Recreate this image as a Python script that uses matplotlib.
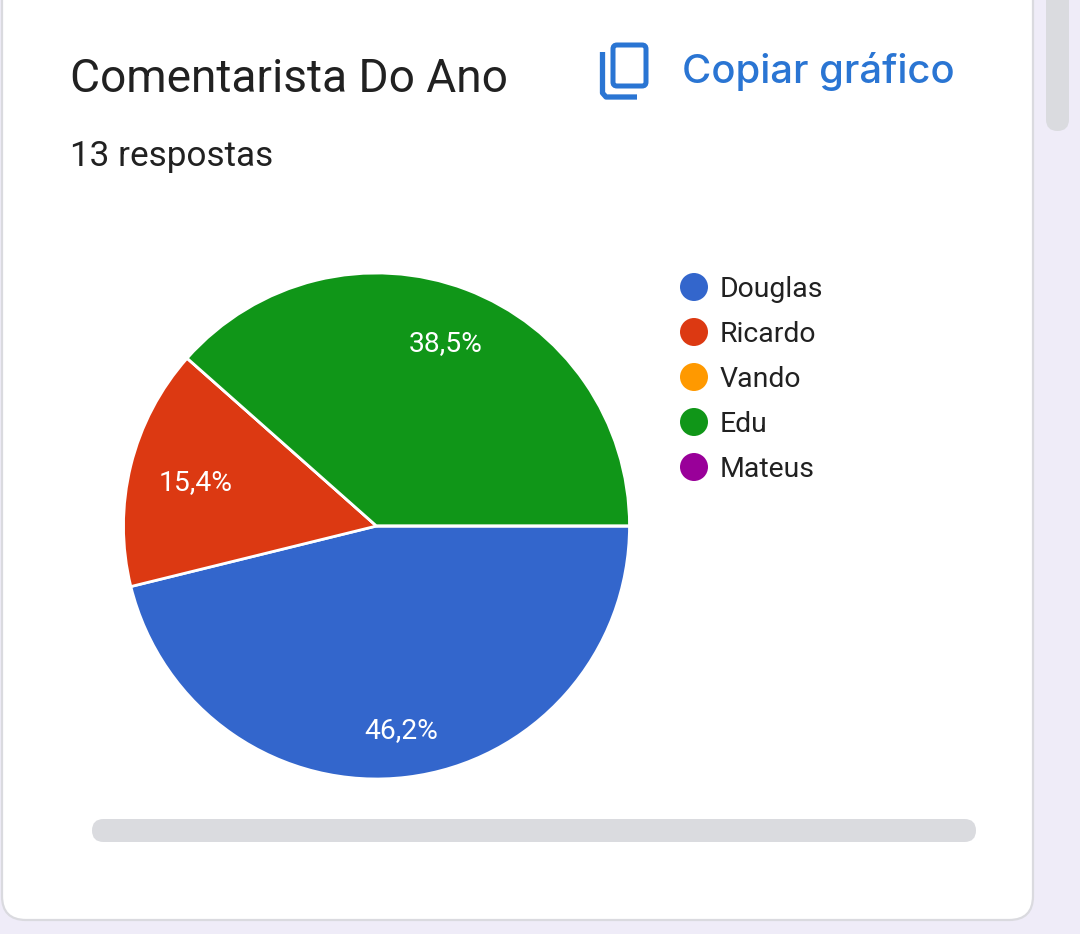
import matplotlib.pyplot as plt
import numpy as np
from matplotlib.patches import Circle, FancyBboxPatch

W, H = 1080, 934

NAMES = ["Douglas", "Ricardo", "Vando", "Edu", "Mateus"]
VOTES = [6, 2, 0, 5, 0]
COLORS = ["#3366CC", "#DC3912", "#FF9900", "#109618", "#990099"]
PCT_LABELS = ["46,2%", "15,4%", "", "38,5%", ""]
# how far along the radius google puts each label
LABEL_DIST = [0.81, 0.735, 0, 0.775, 0]

TITLE = "Comentarista Do Ano"
SUBTITLE = "13 respostas"
COPY = "Copiar gráfico"

BLUE = "#2A75D3"
TEXT = "#212121"
BAR = "#DADBDF"

plt.rcParams["font.family"] = ["Roboto", "DejaVu Sans"]


def flip(y):
    # positions below are measured from the top of the screenshot
    return H - y


def pill(ax, x0, y0, x1, y1, rad, **kw):
    ax.add_patch(
        FancyBboxPatch(
            (x0 + rad, flip(y1) + rad),
            x1 - x0 - 2 * rad,
            y1 - y0 - 2 * rad,
            boxstyle=f"round,pad={rad},rounding_size={rad}",
            **kw,
        )
    )


fig = plt.figure(figsize=(W / 100, H / 100), dpi=100, facecolor="#EFECF8")
ax = fig.add_axes([0, 0, 1, 1])

# card and scrollbars
pill(ax, 2, -60, 1033, 920, 24, facecolor="white", edgecolor="#DADADF", linewidth=1.6)
pill(ax, 92, 819, 976, 842, 11.5, facecolor=BAR, edgecolor="none")
pill(ax, 1046, -40, 1069, 131, 11.5, facecolor=BAR, edgecolor="none")

ax.text(70, flip(92), TITLE, fontsize=33.1, color=TEXT, ha="left", va="baseline")
ax.text(70, flip(166), SUBTITLE, fontsize=25.3, color=TEXT, ha="left", va="baseline")
ax.text(682, flip(83), COPY, fontsize=28.8, color=BLUE, family=["Inter", "DejaVu Sans"],
        weight="medium", ha="left", va="baseline")

# copy icon
pill(ax, 613, 45, 646, 86, 4, facecolor="none", edgecolor=BLUE, linewidth=3.6)
ax.plot([602.5, 602.5, 606, 637], [flip(52), flip(93), flip(97), flip(97)], color=BLUE,
        linewidth=3.8, solid_capstyle="butt", solid_joinstyle="round")

# pie
center = (376.5, flip(526))
radius = 253
wedges, _ = ax.pie(
    VOTES,
    colors=COLORS,
    startangle=0,
    counterclock=False,
    center=center,
    radius=radius,
    frame=True,
    wedgeprops={"edgecolor": "white", "linewidth": 2.0},
)
ax.set_xlim(0, W)
ax.set_ylim(0, H)
ax.set_aspect("equal")
ax.axis("off")

for wedge, label, dist in zip(wedges, PCT_LABELS, LABEL_DIST):
    if not label:
        continue
    mid = np.deg2rad((wedge.theta1 + wedge.theta2) / 2)
    ax.text(
        center[0] + radius * dist * np.cos(mid),
        center[1] + radius * dist * np.sin(mid) - 1,
        label,
        color="white",
        fontsize=20.3,
        ha="center",
        va="center",
    )

# legend
for i, (name, color) in enumerate(zip(NAMES, COLORS)):
    y = flip(287 + 45 * i)
    ax.add_patch(Circle((694, y), 14, facecolor=color, edgecolor="none"))
    ax.text(720, y + 0.5, name, fontsize=20.4, color=TEXT, ha="left", va="center_baseline")

fig.savefig("out.png", dpi=100)
